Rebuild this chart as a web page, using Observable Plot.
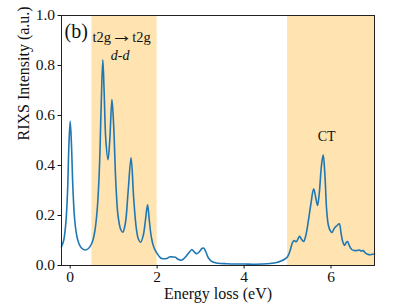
<!DOCTYPE html>
<html>
<head>
<meta charset="utf-8">
<script src="https://cdn.jsdelivr.net/npm/d3@7"></script>
<script src="https://cdn.jsdelivr.net/npm/@observablehq/plot@0.6"></script>
<style>
  html, body { margin: 0; padding: 0; background: #fff; }
  #chart svg { display: block; }
</style>
</head>
<body>
<div id="chart"></div>
<script>
// Energy loss (eV)
const energy = [
  -0.20, -0.15, -0.10, -0.06, -0.03, 0.00, 0.03, 0.06, 0.10, 0.15,
  0.20, 0.26, 0.34, 0.42, 0.50, 0.56, 0.62, 0.67, 0.71, 0.75,
  0.78, 0.82, 0.87, 0.91, 0.96, 1.00, 1.05, 1.10, 1.16, 1.21,
  1.27, 1.33, 1.40, 1.46, 1.52, 1.57, 1.62, 1.68, 1.73, 1.78,
  1.82, 1.87, 1.93, 2.00, 2.08, 2.15, 2.22, 2.30, 2.36, 2.42,
  2.48, 2.54, 2.60, 2.68, 2.75, 2.80, 2.85, 2.91, 2.97, 3.03,
  3.07, 3.12, 3.18, 3.27, 3.40, 3.60, 3.80, 4.00, 4.20, 4.40,
  4.60, 4.75, 4.85, 4.93, 5.00, 5.06, 5.11, 5.15, 5.20, 5.25,
  5.28, 5.32, 5.37, 5.42, 5.48, 5.54, 5.60, 5.65, 5.69, 5.73,
  5.78, 5.82, 5.86, 5.90, 5.94, 5.98, 6.02, 6.08, 6.14, 6.19,
  6.23, 6.27, 6.31, 6.35, 6.38, 6.42, 6.47, 6.53, 6.60, 6.65,
  6.70, 6.74, 6.78, 6.84, 6.90, 6.95, 7.00
];
// RIXS intensity (a.u.)
const intensity = [
  0.075, 0.100, 0.170, 0.300, 0.480, 0.577, 0.480, 0.320, 0.190, 0.120,
  0.088, 0.070, 0.062, 0.068, 0.090, 0.130, 0.220, 0.380, 0.620, 0.823,
  0.700, 0.500, 0.423, 0.500, 0.664, 0.560, 0.330, 0.200, 0.145, 0.133,
  0.170, 0.290, 0.431, 0.270, 0.150, 0.105, 0.093, 0.120, 0.180, 0.243,
  0.180, 0.110, 0.070, 0.048, 0.030, 0.027, 0.028, 0.035, 0.034, 0.033,
  0.025, 0.021, 0.025, 0.040, 0.055, 0.064, 0.055, 0.047, 0.055, 0.068,
  0.070, 0.055, 0.030, 0.015, 0.009, 0.007, 0.006, 0.006, 0.005, 0.006,
  0.008, 0.012, 0.018, 0.025, 0.035, 0.060, 0.090, 0.100, 0.095, 0.110,
  0.117, 0.105, 0.096, 0.120, 0.180, 0.250, 0.307, 0.270, 0.240, 0.290,
  0.400, 0.443, 0.360, 0.220, 0.160, 0.140, 0.132, 0.150, 0.160, 0.167,
  0.130, 0.095, 0.080, 0.092, 0.096, 0.080, 0.065, 0.060, 0.060, 0.062,
  0.058, 0.060, 0.052, 0.045, 0.043, 0.045, 0.046
];
// Shaded regions
const bandStart = [0.5, 5.0];
const bandEnd = [2.0, 7.0];
// Annotations
const noteText = ["(b)", "t2g", "\u2192", "t2g", "d-d", "CT"];
const noteX = [0.14, 0.727, 1.186, 1.64, 1.15, 5.90];
const noteY = [0.936, 0.912, 0.924, 0.912, 0.84, 0.516];
const noteSize = [20, 14.5, 22, 14.5, 14, 14];
const noteStyle = ["normal", "normal", "normal", "normal", "italic", "normal"];
// Ticks
const xTicks = [0, 2, 4, 6];
const yTicks = [0.0, 0.2, 0.4, 0.6, 0.8, 1.0];

const curve = energy.map((e, i) => ({e, v: intensity[i]}));
const bands = bandStart.map((s, i) => ({s, t: bandEnd[i]}));
const notes = noteText.map((t, i) => ({t, x: noteX[i], y: noteY[i], size: noteSize[i], style: noteStyle[i]}));

const font = "'Liberation Serif', 'DejaVu Serif', serif";

const chart = Plot.plot({
  width: 407,
  height: 305,
  marginLeft: 61,
  marginRight: 33,
  marginTop: 15,
  marginBottom: 40,
  style: {fontFamily: font, fontSize: "15px", background: "#fff", color: "#111"},
  x: {domain: [-0.2, 7]},
  y: {domain: [0, 1]},
  marks: [
    Plot.rectX(bands, {x1: "s", x2: "t", y1: 0, y2: 1, fill: "#ffe3b0"}),
    Plot.line(curve, {x: "e", y: "v", stroke: "#1f77b4", strokeWidth: 1.6, curve: "catmull-rom"}),
    Plot.frame({stroke: "#222", strokeWidth: 1}),
    Plot.axisX({ticks: xTicks, tickSize: 3.5, tickPadding: 2, label: null, fontSize: 15.5, fontFamily: font}),
    Plot.axisY({ticks: yTicks, tickFormat: d3.format(".1f"), tickSize: 3.5, tickPadding: 3, label: null, fontSize: 15.5, fontFamily: font}),
    Plot.text(["Energy loss (eV)"], {frameAnchor: "bottom", dy: 33, fontSize: 16, fontFamily: font, fill: "#111"}),
    Plot.text(["RIXS Intensity (a.u.)"], {frameAnchor: "left", dx: -38, rotate: -90, fontSize: 16, fontFamily: font, fill: "#111"}),
    ...notes.map(n => Plot.text([n], {x: "x", y: "y", text: "t", fontSize: n.size, fontStyle: n.style, fontFamily: font, fill: "#111"}))
  ]
});
document.getElementById("chart").appendChild(chart);
</script>
</body>
</html>
